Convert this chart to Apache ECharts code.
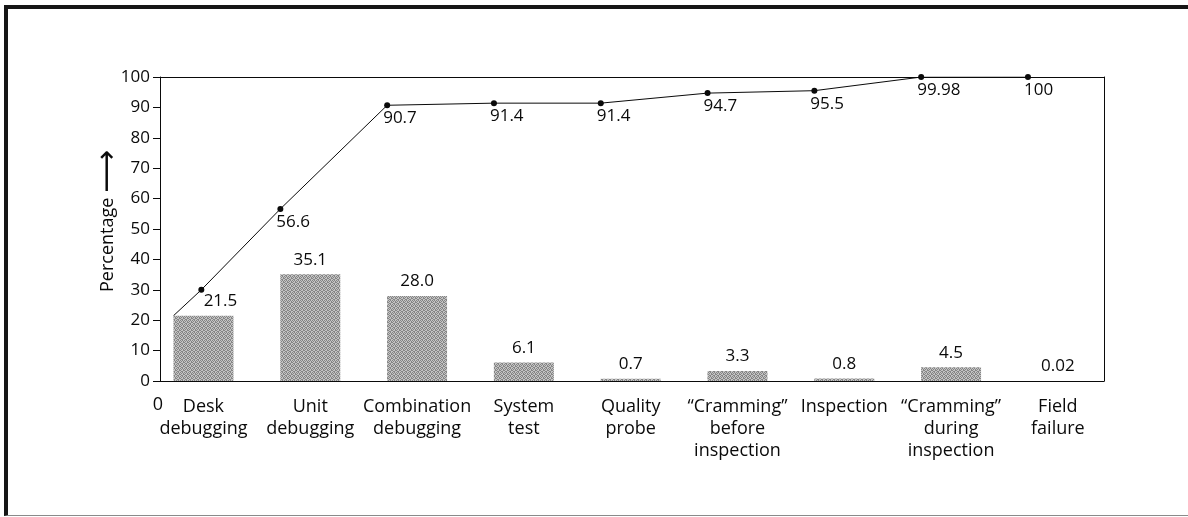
<!DOCTYPE html>
<html>
<head>
<meta charset="utf-8">
<script src="https://cdn.jsdelivr.net/npm/echarts@6/dist/echarts.min.js"></script>
<style>
  html, body { margin: 0; padding: 0; background: #fff; }
  #wrap { position: relative; width: 1188px; height: 517px; }
  #chart { position: absolute; left: 0; top: 0; width: 1188px; height: 517px; }
  #frame {
    position: absolute; left: 4px; top: 5px; right: 0; bottom: 1px;
    border-top: 4px solid #161616; border-left: 4px solid #161616;
    border-bottom: 1px solid #8a8a8a; pointer-events: none;
  }
</style>
</head>
<body>
<div id="wrap"><div id="chart"></div><div id="frame"></div></div>
<script>
// Defect-removal stages
const categories = [
  'Desk\ndebugging', 'Unit\ndebugging', 'Combination\ndebugging', 'System\ntest',
  'Quality\nprobe', '\u201CCramming\u201D\nbefore\ninspection', 'Inspection',
  '\u201CCramming\u201D\nduring\ninspection', 'Field\nfailure'
];
// Share of defects removed at each stage (%)
const shares = [21.5, 35.1, 28.0, 6.1, 0.7, 3.3, 0.8, 4.5, 0.02];
// Cumulative percentage printed at the start of stages 2..9
const cumulative = [56.6, 90.7, 91.4, 91.4, 94.7, 95.5, 99.98, 100];
// Curve start (top-left of the first bar) and the dot drawn on its first segment
const curveStart = 21.5;
const firstDot = [-0.02, 30];
const stageIndex = categories.map((c, i) => i);

const FONT = 'Open Sans';
const INK = '#0a0a0a';
const X_MIN = -0.407, X_MAX = 8.432;   // plot edges in stage units
const EDGE = 0.28;                      // half a bar, in stage units

const lineData = [
  { value: [-EDGE, curveStart], symbol: 'none', label: { show: false } },
  { value: firstDot, label: { show: false } }
].concat(cumulative.map((v, i) => ({ value: [i + 1 - EDGE, v] })));

const chart = echarts.init(document.getElementById('chart'), null, { renderer: 'canvas' });

// fine stipple for the bars
const tex = document.createElement('canvas');
tex.width = 4; tex.height = 4;
const tc = tex.getContext('2d');
tc.fillStyle = '#c4c4c4'; tc.fillRect(0, 0, 4, 4);
tc.fillStyle = '#858585';
[[0, 0], [2, 0], [1, 1], [3, 2], [0, 2], [2, 3], [1, 3], [3, 1]].forEach(([x, y]) => tc.fillRect(x, y, 1, 1));

chart.setOption({
  animation: false,
  textStyle: { fontFamily: FONT, color: INK },
  grid: { left: 160, right: 84, top: 77, bottom: 136, containLabel: false },
  xAxis: [{
    type: 'value', min: X_MIN, max: X_MAX,
    name: '0', nameLocation: 'start', nameGap: -3, nameMoveOverlap: false,
    nameTextStyle: { fontFamily: FONT, fontSize: 18, color: INK, verticalAlign: 'top', padding: [15, 0, 0, 0] },
    axisLine: { show: true, onZero: false, lineStyle: { color: INK, width: 1 } },
    axisTick: { show: false },
    splitLine: { show: false },
    axisLabel: {
      customValues: stageIndex,
      formatter: v => categories[Math.round(v)],
      fontFamily: FONT, fontSize: 18, lineHeight: 22, color: INK, margin: 15
    }
  }, {
    type: 'value', position: 'top', min: X_MIN, max: X_MAX,
    axisLine: { show: true, onZero: false, lineStyle: { color: INK, width: 1 } },
    axisTick: { show: false }, axisLabel: { show: false }, splitLine: { show: false }
  }],
  yAxis: [{
    type: 'value', min: 0, max: 100, interval: 10,
    name: 'Percentage {a|\u27F6}',
    nameLocation: 'middle', nameGap: 37, nameMoveOverlap: false,
    nameTextStyle: {
      fontFamily: FONT, fontSize: 18, color: INK, padding: [0, 0, 0, 16],
      rich: { a: { fontFamily: 'DejaVu Sans', fontSize: 30, color: INK } }
    },
    axisLine: { show: true, onZero: false, lineStyle: { color: INK, width: 1 } },
    axisTick: { show: true, length: 7, lineStyle: { color: INK } },
    axisLabel: { fontFamily: FONT, fontSize: 17, color: INK, margin: 10 },
    splitLine: { show: false }
  }, {
    type: 'value', position: 'right', min: 0, max: 100,
    axisLine: { show: true, onZero: false, lineStyle: { color: INK, width: 1 } },
    axisTick: { show: false }, axisLabel: { show: false }, splitLine: { show: false }
  }],
  series: [{
    type: 'bar',
    barWidth: 60,
    itemStyle: { color: { image: tex, repeat: 'repeat' } },
    label: {
      show: true, position: 'top', distance: 6,
      fontFamily: FONT, fontSize: 17, color: INK,
      formatter: p => p.value[1].toFixed(p.value[1] < 0.1 ? 2 : 1)
    },
    data: shares.map((v, i) => (i === 0 ? { value: [i, v], label: { offset: [17, 0] } } : { value: [i, v] }))
  }, {
    type: 'line',
    symbol: 'circle', symbolSize: 6,
    lineStyle: { color: INK, width: 1 },
    itemStyle: { color: INK },
    label: {
      show: true, position: [-1, 7.5], align: 'left', verticalAlign: 'top',
      fontFamily: FONT, fontSize: 17, color: INK,
      formatter: p => String(p.value[1])
    },
    data: lineData,
    z: 3
  }]
});
</script>
</body>
</html>
